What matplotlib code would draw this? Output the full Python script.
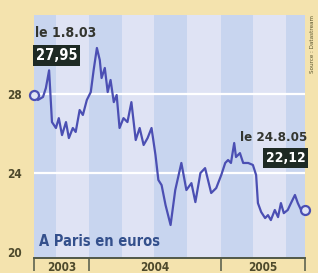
import matplotlib
matplotlib.use("Agg")
import matplotlib.pyplot as plt
import pandas as pd

# ---- data ----
dates = ["2003-08-01", "2003-08-12", "2003-08-26", "2003-09-03", "2003-09-12", "2003-09-20",
         "2003-10-01", "2003-10-09", "2003-10-18", "2003-10-29", "2003-11-06", "2003-11-17",
         "2003-11-25", "2003-12-06", "2003-12-15", "2003-12-26", "2004-01-06", "2004-01-14",
         "2004-01-23", "2004-01-31", "2004-02-05", "2004-02-14", "2004-02-22", "2004-03-01",
         "2004-03-10", "2004-03-18", "2004-03-26", "2004-04-06", "2004-04-17", "2004-04-28",
         "2004-05-10", "2004-05-21", "2004-06-01", "2004-06-12", "2004-06-23", "2004-07-04",
         "2004-07-12", "2004-07-21", "2004-08-01", "2004-08-15", "2004-08-28", "2004-09-14",
         "2004-09-28", "2004-10-12", "2004-10-23", "2004-11-06", "2004-11-19", "2004-12-06",
         "2004-12-20", "2005-01-03", "2005-01-14", "2005-01-22", "2005-01-30", "2005-02-08",
         "2005-02-13", "2005-02-24", "2005-03-05", "2005-03-19", "2005-04-01", "2005-04-10",
         "2005-04-15", "2005-04-24", "2005-05-05", "2005-05-13", "2005-05-21", "2005-06-01",
         "2005-06-10", "2005-06-18", "2005-06-26", "2005-07-07", "2005-07-16", "2005-07-27",
         "2005-08-04", "2005-08-13", "2005-08-24"]
prices = [27.95, 27.70, 27.85, 28.30, 29.20, 26.58,
          26.28, 26.78, 25.92, 26.58, 25.77, 26.28,
          26.08, 27.19, 26.94, 27.70, 28.10, 29.22,
          30.33, 29.72, 28.81, 29.32, 28.10, 28.71,
          27.59, 27.95, 26.28, 26.78, 26.58, 27.59,
          25.67, 26.28, 25.42, 25.77, 26.28, 24.91,
          23.65, 23.39, 22.38, 21.37, 23.14, 24.51,
          23.14, 23.49, 22.53, 24.00, 24.25, 22.99,
          23.24, 23.90, 24.51, 24.66, 24.51, 25.52,
          24.81, 25.01, 24.51, 24.51, 24.41, 23.90,
          22.48, 22.03, 21.72, 21.87, 21.62, 22.13,
          21.77, 22.48, 21.97, 22.13, 22.48, 22.89,
          22.48, 22.13, 22.12]
y_ticks = [20, 24, 28]
year_labels = ["2003", "2004", "2005"]
start_label = ["le 1.8.03", "27,95"]
end_label = ["le 24.8.05", "22,12"]
subtitle = "A Paris en euros"
source = "Source : Datastream"

d = pd.to_datetime(dates)
x_start = pd.Timestamp("2003-08-01")
x_end = pd.Timestamp("2005-08-24")

plt.rcParams['font.family'] = ['DejaVu Sans']
plt.rcParams['font.stretch'] = 'condensed'

fig = plt.figure(figsize=(3.18, 2.73), dpi=100)
fig.patch.set_facecolor('#f4e3ae')
ax = fig.add_axes([34/318, 15/273, (305-34)/318, (258-15)/273])
ax.set_facecolor('#dfe3f4')

# quarter stripes
qs = pd.date_range("2003-07-01", "2005-10-01", freq="QS")
for a, b in zip(qs[:-1], qs[1:]):
    if a.month in (1, 7):
        ax.axvspan(max(a, x_start), min(b, x_end), color='#c8d5ef', lw=0, zorder=0)

for yv in (24, 28):
    ax.axhline(yv, color='white', lw=1.6, zorder=1)

line_c = '#4b4fb3'
ax.plot(d, prices, color=line_c, lw=1.6, zorder=3, solid_joinstyle='round')
ax.plot([d[0], d[-1]], [prices[0], prices[-1]], 'o', ms=6.5, mfc='#dfe3f5', mec=line_c,
        mew=1.6, zorder=4, clip_on=False)

ax.set_xlim(x_start, x_end)
ax.set_ylim(19.7, 32.0)

for s in ('top', 'right', 'left'):
    ax.spines[s].set_visible(False)
ax.spines['bottom'].set_color('#505848')
ax.spines['bottom'].set_linewidth(1.4)

ax.set_yticks(y_ticks)
ax.set_yticklabels([str(v) for v in y_ticks], fontsize=8.5, fontweight='bold', color='#4e4a2c')
ax.tick_params(axis='y', length=0, pad=9)

# year ticks
bounds = [x_start, pd.Timestamp("2004-01-01"), pd.Timestamp("2005-01-01"), x_end]
ax.set_xticks(bounds)
ax.set_xticklabels([])
ax.tick_params(axis='x', direction='out', length=9, width=1.1, color='#505848')
for i, lab in enumerate(year_labels):
    mid = bounds[i] + (bounds[i+1] - bounds[i]) / 2
    ax.text(mid, -0.012, lab, transform=ax.get_xaxis_transform(), ha='center', va='top',
            fontsize=8.5, fontweight='bold', color='#4e4a2c')

ax.text(0.02, 0.035, subtitle, transform=ax.transAxes, ha='left', va='bottom',
        fontsize=10.5, fontweight='bold', color='#34508c')

# annotations
ax.text(pd.Timestamp("2003-08-03"), 31.1, start_label[0], ha='left', va='center',
        fontsize=10, fontweight='bold', color='#33352f')
ax.text(pd.Timestamp("2003-08-06"), 29.95, start_label[1], ha='left', va='center',
        fontsize=10.5, fontweight='bold', color='white',
        bbox=dict(boxstyle='square,pad=0.2', fc='#1e2a24', ec='none'))
ax.text(pd.Timestamp("2005-08-30"), 25.8, end_label[0], ha='right', va='center',
        fontsize=9.5, fontweight='bold', color='#33352f', clip_on=False)
ax.text(pd.Timestamp("2005-08-26"), 24.76, end_label[1], ha='right', va='center',
        fontsize=10, fontweight='bold', color='white', clip_on=False,
        bbox=dict(boxstyle='square,pad=0.2', fc='#1e2a24', ec='none'))

fig.text(312/318, 1 - 15/273, source, rotation=90, ha='center', va='top',
         fontsize=4.5, color='#5a5530')

fig.savefig("out.png", dpi=100, facecolor=fig.get_facecolor())
